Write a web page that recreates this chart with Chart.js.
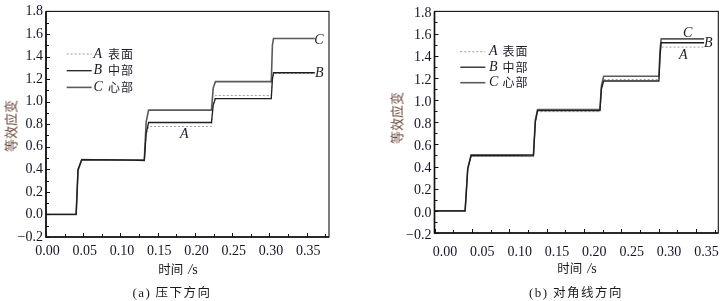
<!DOCTYPE html>
<html><head><meta charset="utf-8">
<script src="https://cdn.jsdelivr.net/npm/chart.js@4.4.0/dist/chart.umd.min.js"></script>
<style>
html,body{margin:0;padding:0;background:#fff;width:725px;height:301px;overflow:hidden;position:relative;}
.wrap{position:absolute;top:0;height:301px;}
#wa{left:0;width:362px;} #wb{left:362px;width:363px;}
canvas{display:block;}
.txt{position:absolute;white-space:nowrap;color:#1a1a1a;font-family:"Noto Sans CJK SC";font-size:12.5px;transform:translate(-50%,-50%);line-height:1;}
.ser{font-family:"Liberation Serif";}
.ytitle{color:#6b4636;font-size:13px;transform:translate(-50%,-50%) rotate(-90deg);letter-spacing:0px;}
.cap{letter-spacing:1.5px;}
.unit{font-family:"Liberation Serif";font-size:14px;margin-left:5px;}
</style></head>
<body>
<div class="wrap" id="wa"><canvas id="ca" width="362" height="301"></canvas></div>
<div class="wrap" id="wb"><canvas id="cb" width="363" height="301"></canvas></div>

<div class="txt ytitle" style="left:9.5px;top:126px">等效应变</div>
<div class="txt ytitle" style="left:396px;top:118px">等效应变</div>
<div class="txt" style="left:178px;top:270px">时间<span class="unit"><i>/</i>s</span></div>
<div class="txt" style="left:577px;top:269px">时间<span class="unit"><i>/</i>s</span></div>
<div class="txt cap" style="left:172px;top:292px"><span class="ser" style="font-size:13px">(a)</span> 压下方向</div>
<div class="txt cap" style="left:576px;top:292px"><span class="ser" style="font-size:13px">(b)</span> 对角线方向</div>

<script>
// ---------- data ----------
const seriesKeys  = ['A', 'B', 'C'];
const seriesNames = ['表面', '中部', '心部'];

const xTickLabels = ['0.00','0.05','0.10','0.15','0.20','0.25','0.30','0.35'];
const yTickLabels = ['−0.2','0.0','0.2','0.4','0.6','0.8','1.0','1.2','1.4','1.6','1.8'];

// (a) 压下方向
const timeA = [0, 0.0405, 0.043, 0.048, 0.105, 0.132, 0.1345, 0.1378, 0.2222, 0.2245, 0.2275, 0.3025, 0.304, 0.3055, 0.361];
const surfA = [0, 0, 0.39, 0.485, 0.482, 0.478, 0.70, 0.780, 0.780, 0.98, 1.054, 1.054, 1.20, 1.250, 1.250];
const midA  = [0, 0, 0.40, 0.486, 0.484, 0.478, 0.72, 0.815, 0.815, 0.97, 1.027, 1.027, 1.20, 1.256, 1.256];
const coreA = [0, 0, 0.39, 0.486, 0.480, 0.485, 0.82, 0.925, 0.925, 1.12, 1.177, 1.177, 1.50, 1.560, 1.560];

// (b) 对角线方向
const timeB = [0, 0.041, 0.0445, 0.049, 0.106, 0.1325, 0.135, 0.138, 0.2215, 0.2235, 0.2265, 0.3005, 0.302, 0.3035, 0.361];
const surfB = [0, 0, 0.38, 0.497, 0.497, 0.496, 0.80, 0.895, 0.895, 1.10, 1.186, 1.186, 1.40, 1.478, 1.478];
const midB  = [0, 0, 0.38, 0.497, 0.497, 0.496, 0.80, 0.905, 0.905, 1.10, 1.172, 1.172, 1.40, 1.517, 1.517];
const coreB = [0, 0, 0.38, 0.505, 0.505, 0.508, 0.82, 0.915, 0.915, 1.13, 1.215, 1.215, 1.45, 1.552, 1.552];

// ---------- helpers ----------
const num = s => parseFloat(s.replace('−','-'));
const xTickVals = xTickLabels.map(num);
const yTickVals = yTickLabels.map(num);
const xMinor = xTickVals.map(v => +(v + 0.025).toFixed(3));
const yMinor = yTickVals.slice(0, -1).map(v => +(v + 0.1).toFixed(2));

const styles = [
  {color:'#9a9a9a', width:1,   dash:[2,2], order:3},
  {color:'#1e1e1e', width:1.3, dash:[],    order:1},
  {color:'#5a5a5a', width:1.6, dash:[],    order:2}
];

const framePlugin = {
  id: 'frame',
  afterDatasetsDraw(chart, args, o) {
    const {ctx, chartArea: a, scales: {x, y}} = chart;
    ctx.save();
    ctx.strokeStyle = '#111';
    ctx.lineWidth = 1;
    const vt = (v, len) => { const p = Math.round(x.getPixelForValue(v)) + 0.5; ctx.beginPath(); ctx.moveTo(p, a.bottom); ctx.lineTo(p, a.bottom - len); ctx.stroke(); };
    const ht = (v, len) => { const p = Math.round(y.getPixelForValue(v)) + 0.5; ctx.beginPath(); ctx.moveTo(a.left, p); ctx.lineTo(a.left + len, p); ctx.stroke(); };
    xTickVals.forEach(v => vt(v, 4));
    xMinor.forEach(v => { if (v < x.max) vt(v, 3); });
    yTickVals.forEach(v => ht(v, 4));
    yMinor.forEach(v => ht(v, 3));
    // frame
    ctx.lineWidth = 1.1;
    ctx.strokeRect(a.left, a.top, a.right - a.left, a.bottom - a.top);
    ctx.lineWidth = 1.6;
    ctx.beginPath(); ctx.moveTo(a.left, a.top); ctx.lineTo(a.left, a.bottom); ctx.lineTo(a.right, a.bottom); ctx.stroke();
    // legend
    const L = o.legend;
    chart.data.datasets.forEach((ds, i) => {
      const ly = L.y0 + i * L.dy;
      ctx.beginPath();
      ctx.strokeStyle = ds.borderColor; ctx.lineWidth = ds.borderWidth; ctx.setLineDash(ds.borderDash);
      ctx.moveTo(L.x0, ly); ctx.lineTo(L.x1, ly); ctx.stroke();
      ctx.setLineDash([]);
      ctx.fillStyle = '#1a1a2a';
      ctx.textBaseline = 'middle'; ctx.textAlign = 'left';
      ctx.font = 'italic 14px "Liberation Serif"';
      ctx.fillText(seriesKeys[i], L.tx, ly);
      ctx.font = '12px "Noto Sans CJK SC"';
      ctx.letterSpacing = '1px';
      ctx.fillText(seriesNames[i], L.cx, ly);
      ctx.letterSpacing = '0px';
    });
    // end labels
    ctx.fillStyle = '#1a1a2a';
    ctx.font = 'italic 14px "Liberation Serif"';
    ctx.textAlign = 'center'; ctx.textBaseline = 'middle';
    o.marks.forEach(m => ctx.fillText(m.t, x.getPixelForValue(m.x), y.getPixelForValue(m.y)));
    ctx.restore();
  }
};

function makeChart(id, time, vals, cfg) {
  return new Chart(document.getElementById(id), {
    type: 'line',
    data: {
      datasets: vals.map((arr, i) => ({
        label: seriesKeys[i] + ' ' + seriesNames[i],
        data: time.map((t, k) => ({x: t, y: arr[k]})),
        borderColor: styles[i].color, borderWidth: styles[i].width, borderDash: styles[i].dash,
        order: styles[i].order, pointRadius: 0, tension: 0, fill: false
      }))
    },
    options: {
      responsive: false, animation: false, devicePixelRatio: 1,
      layout: {padding: {left: 0, right: cfg.padR, top: cfg.padT, bottom: 0}},
      plugins: {legend: {display: false}, tooltip: {enabled: false}, frame: {legend: cfg.legend, marks: cfg.marks}},
      scales: {
        x: {
          type: 'linear', min: 0, max: 0.38,
          afterBuildTicks: s => { s.ticks = xTickVals.map(v => ({value: v})); },
          afterFit: s => { s.height = cfg.xh; },
          ticks: {font: {family: 'Liberation Serif', size: 14}, color: '#14142a', padding: cfg.xpad,
                  labelOffset: cfg.xoff, maxRotation: 0, autoSkip: false,
                  callback: (v, i) => xTickLabels[i]},
          grid: {display: false, drawTicks: false}, border: {display: false}
        },
        y: {
          type: 'linear', min: -0.2, max: 1.8,
          afterBuildTicks: s => { s.ticks = yTickVals.map(v => ({value: v})); },
          afterFit: s => { s.width = cfg.yw; },
          ticks: {font: {family: 'Liberation Serif', size: 14}, color: '#14142a', padding: 3,
                  labelOffset: cfg.yoff, autoSkip: false,
                  callback: (v, i) => yTickLabels[i]},
          grid: {display: false, drawTicks: false}, border: {display: false}
        }
      }
    },
    plugins: [framePlugin]
  });
}

makeChart('ca', timeA, [surfA, midA, coreA], {
  padR: 33, padT: 10.5, xh: 64, yw: 46, xpad: 6, xoff: 1.5, yoff: 0,
  legend: {x0: 66.7, x1: 91.7, y0: 54, dy: 16.7, tx: 93.5, cx: 108},
  marks: [{t: 'C', x: 0.3666, y: 1.546}, {t: 'B', x: 0.367, y: 1.254}, {t: 'A', x: 0.1857, y: 0.71}]
});

makeChart('cb', timeB, [surfB, midB, coreB], {
  padR: 6.7, padT: 8, xh: 68, yw: 72.5, xpad: 11, xoff: 10.5, yoff: 2,
  legend: {x0: 98.3, x1: 123.3, y0: 51.7, dy: 15.5, tx: 127, cx: 140.5},
  marks: [{t: 'C', x: 0.339, y: 1.605}, {t: 'B', x: 0.3666, y: 1.51}, {t: 'A', x: 0.3332, y: 1.407}]
});
</script>
</body></html>
